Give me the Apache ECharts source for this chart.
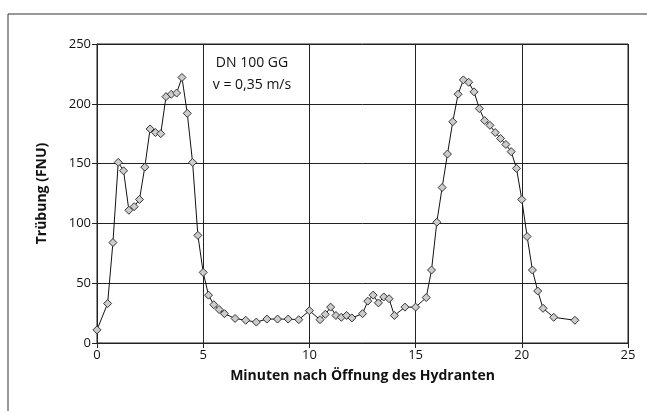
<!DOCTYPE html>
<html>
<head>
<meta charset="utf-8">
<script src="https://cdn.jsdelivr.net/npm/echarts@6/dist/echarts.min.js"></script>
<style>html,body{margin:0;padding:0;background:#fff}#c{width:647px;height:411px}</style>
</head>
<body>
<div id="c"></div>
<script>
const minutes = [0,0.5,0.75,1,1.25,1.5,1.75,2,2.25,2.5,2.75,3,3.25,3.5,3.75,4,4.25,4.5,4.75,5,5.25,5.5,5.75,6,6.5,7,7.5,8,8.5,9,9.5,10,10.5,10.75,11,11.25,11.5,11.75,12,12.5,12.75,13,13.25,13.5,13.75,14,14.5,15,15.5,15.75,16,16.25,16.5,16.75,17,17.25,17.5,17.75,18,18.25,18.5,18.75,19,19.25,19.5,19.75,20,20.25,20.5,20.75,21,21.5,22.5];
const turbidity = [11,33,84,151,144,111,114,120,147,179,176,175,206,208,209,222,192,151,90,59,40,32,28,24.5,20.5,19,17.5,20,20,20,19.5,27,19.5,24,30,23,21.5,23,21,24.5,35,40,33.5,38.5,37,23,30,30,38,61,101,130,158,185,208,220,218,210,196,186,182,176,171,166,160,146,120,89,61,43.5,29,21.5,19];
const annotation = ['DN 100 GG', 'v = 0,35 m/s'];
const xTitle = 'Minuten nach Öffnung des Hydranten';
const yTitle = 'Trübung (FNU)';

const chart = echarts.init(document.getElementById('c'));
const font = '"Open Sans", "Noto Sans", sans-serif';
chart.setOption({
  animation: false,
  textStyle: { fontFamily: font },
  grid: { left: 97, right: 19, top: 44, bottom: 68, show: true, borderColor: '#222', borderWidth: 1 },
  graphic: [
    { type: 'rect', shape: { x: 8, y: 14, width: 700, height: 500 }, style: { fill: 'none', stroke: '#333', lineWidth: 1 }, silent: true },
    { type: 'text', left: 205, top: 52, style: { text: annotation.join('\n'), font: '14px ' + font, fill: '#111', textAlign: 'center', lineHeight: 22 }, x: 252, y: 52, left: undefined, top: undefined }
  ],
  xAxis: {
    type: 'value', min: 0, max: 25, interval: 5,
    name: xTitle, nameLocation: 'middle', nameGap: 26,
    nameTextStyle: { fontWeight: 'bold', fontSize: 14, color: '#111', fontFamily: font },
    axisLine: { show: true, lineStyle: { color: '#222' } },
    axisTick: { show: true, length: 5, lineStyle: { color: '#222' } },
    axisLabel: { fontSize: 13, color: '#111', margin: 6 },
    splitLine: { show: true, lineStyle: { color: '#222', width: 1 } }
  },
  yAxis: {
    type: 'value', min: 0, max: 250, interval: 50,
    name: yTitle, nameLocation: 'middle', nameGap: 48, nameRotate: 90,
    nameTextStyle: { fontWeight: 'bold', fontSize: 14, color: '#111', fontFamily: font },
    axisLine: { show: true, lineStyle: { color: '#222' } },
    axisTick: { show: true, length: 5, lineStyle: { color: '#222' } },
    axisLabel: { fontSize: 13, color: '#111', margin: 6 },
    splitLine: { show: true, lineStyle: { color: '#222', width: 1 } }
  },
  series: [{
    type: 'line',
    data: minutes.map((m, i) => [m, turbidity[i]]),
    symbol: 'diamond', symbolSize: 8, showAllSymbol: true,
    lineStyle: { color: '#111', width: 1 },
    itemStyle: { color: '#ccc', borderColor: '#333', borderWidth: 1 }
  }]
});
</script>
</body>
</html>
